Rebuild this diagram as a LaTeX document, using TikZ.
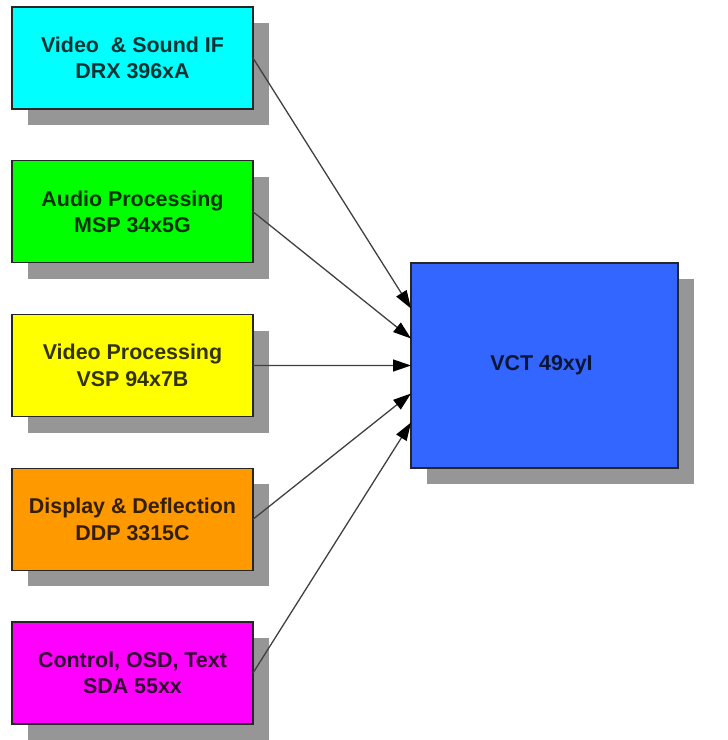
\documentclass[tikz,border=0pt]{standalone}
\usepackage{fontspec}
\setsansfont{Liberation Sans}
\usetikzlibrary{arrows.meta,shadows}
\definecolor{shadowgray}{RGB}{150,150,150}
\definecolor{chipcyan}{RGB}{0,255,255}
\definecolor{chipgreen}{RGB}{0,255,0}
\definecolor{chipyellow}{RGB}{255,255,0}
\definecolor{chiporange}{RGB}{255,153,0}
\definecolor{chipmagenta}{RGB}{255,0,255}
\definecolor{chipblue}{RGB}{51,102,255}
\def\xchip{132.5bp}
\def\ychip{-58bp}
\def\ysep{153.75bp}

\begin{document}
\begin{tikzpicture}[
    chip/.style={
      draw=black!85, line width=1.4bp, fill=#1, text=#1!20!black,
      minimum width=241bp, minimum height=102bp, outer sep=0pt,
      align=center, font=\sffamily\bfseries\fontsize{21.5}{26.5}\selectfont,
      drop shadow={shadow xshift=16bp, shadow yshift=-16bp,
        fill=shadowgray, opacity=1}
    },
    arrowtip/.style={
      draw=black!75, line width=1.3bp,
      -{Triangle[length=18bp,width=12bp,black]}
    }
  ]
    \useasboundingbox (0,0) rectangle (728bp,-740bp);

    \node[chip=chipcyan]    (drx) at (\xchip,\ychip-0*\ysep) { Video\ \ \& Sound IF\\DRX 396xA };
    \node[chip=chipgreen]   (msp) at (\xchip,\ychip-1*\ysep) { Audio Processing\\MSP 34x5G };
    \node[chip=chipyellow]  (vsp) at (\xchip,\ychip-2*\ysep) { Video Processing\\VSP 94x7B };
    \node[chip=chiporange]  (ddp) at (\xchip,\ychip-3*\ysep) { Display \& Deflection\\DDP 3315C };
    \node[chip=chipmagenta] (sda) at (\xchip,\ychip-4*\ysep) { Control, OSD, Text\\SDA 55xx };

    \node[chip=chipblue, minimum width=267bp, minimum height=205bp]
      (vct) at (544.5bp,-365.5bp) { VCT 49xyI };

    \draw[arrowtip] (drx.east) -- ([yshift=57bp]vct.west);
    \draw[arrowtip] (msp.east) -- ([yshift=27bp]vct.west);
    \draw[arrowtip] (vsp.east) -- (vct.west);
    \draw[arrowtip] (ddp.east) -- ([yshift=-28bp]vct.west);
    \draw[arrowtip] (sda.east) -- ([yshift=-57bp]vct.west);
  \end{tikzpicture}
\end{document}
